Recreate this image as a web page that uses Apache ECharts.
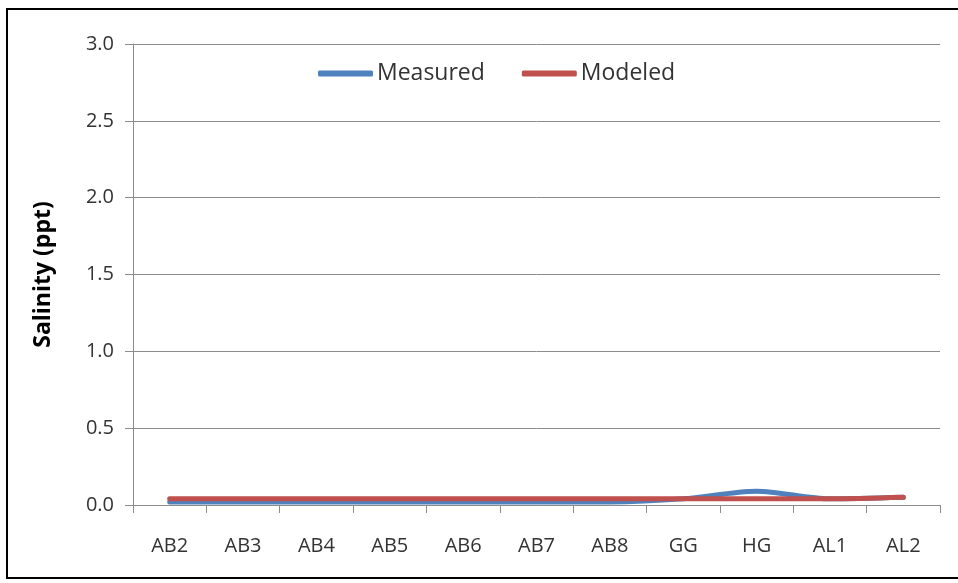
<!DOCTYPE html>
<html>
<head>
<meta charset="utf-8">
<script src="https://cdn.jsdelivr.net/npm/echarts@6/dist/echarts.min.js"></script>
<style>
  html, body { margin: 0; padding: 0; background: #fff; }
  #chart { width: 958px; height: 583px; }
</style>
</head>
<body>
<div id="chart"></div>
<script>
// stations along the x axis
const stations = ['AB2', 'AB3', 'AB4', 'AB5', 'AB6', 'AB7', 'AB8', 'GG', 'HG', 'AL1', 'AL2'];
// salinity, ppt
const measured = [0.02, 0.02, 0.02, 0.02, 0.02, 0.02, 0.02, 0.04, 0.09, 0.04, 0.05];
const modeled = [0.04, 0.04, 0.04, 0.04, 0.04, 0.04, 0.04, 0.04, 0.04, 0.04, 0.05];
const yTicks = [0, 0.5, 1.0, 1.5, 2.0, 2.5, 3.0];

const font = '"Open Sans", Lato, sans-serif';
const txt = '#333333';
const gridGrey = '#8c8c8c';

const myChart = echarts.init(document.getElementById('chart'));
const option = {
  animation: false,
  backgroundColor: '#fff',
  textStyle: { fontFamily: font },
  graphic: [
    {
      type: 'rect',
      shape: { x: 7, y: 9, width: 960, height: 569 },
      style: { fill: 'none', stroke: '#000', lineWidth: 2 },
      silent: true,
    },
  ],
  legend: {
    top: 57,
    left: 313,
    itemGap: 37,
    itemWidth: 55,
    itemHeight: 6,
    icon: 'roundRect',
    textStyle: { fontSize: 23, color: txt, fontFamily: font, padding: [0, 0, 0, -1] },
    data: ['Measured', 'Modeled'],
  },
  grid: { left: 133, right: 18, top: 44, bottom: 78 },
  xAxis: {
    type: 'category',
    data: stations,
    boundaryGap: true,
    axisLine: { lineStyle: { color: gridGrey, width: 1 } },
    axisTick: { show: true, length: 8, interval: 0, lineStyle: { color: gridGrey } },
    axisLabel: { color: txt, fontSize: 20, margin: 31, interval: 0 },
  },
  yAxis: {
    type: 'value',
    min: 0,
    max: 3,
    interval: 0.5,
    name: 'Salinity (ppt)',
    nameLocation: 'middle',
    nameGap: 78,
    nameTextStyle: { fontSize: 23, fontWeight: 'bold', color: '#000', fontFamily: font },
    axisLine: { show: true, lineStyle: { color: gridGrey, width: 1 } },
    axisTick: { show: true, length: 8, lineStyle: { color: gridGrey } },
    axisLabel: {
      color: txt,
      fontSize: 20,
      margin: 19,
      formatter: function (v) {
        return yTicks.indexOf(v) >= 0 ? v.toFixed(1) : '';
      },
    },
    splitLine: { show: true, lineStyle: { color: gridGrey, width: 1 } },
  },
  series: [
    {
      name: 'Measured',
      type: 'line',
      data: measured,
      smooth: 0.3,
      showSymbol: false,
      symbol: 'none',
      color: '#4f81bd',
      lineStyle: { width: 5, color: '#4f81bd', cap: 'round' },
    },
    {
      name: 'Modeled',
      type: 'line',
      data: modeled,
      smooth: 0.3,
      showSymbol: false,
      symbol: 'none',
      color: '#c0504d',
      lineStyle: { width: 5, color: '#c0504d', cap: 'round' },
    },
  ],
};
myChart.setOption(option);
window.onresize = myChart.resize;
</script>
</body>
</html>
